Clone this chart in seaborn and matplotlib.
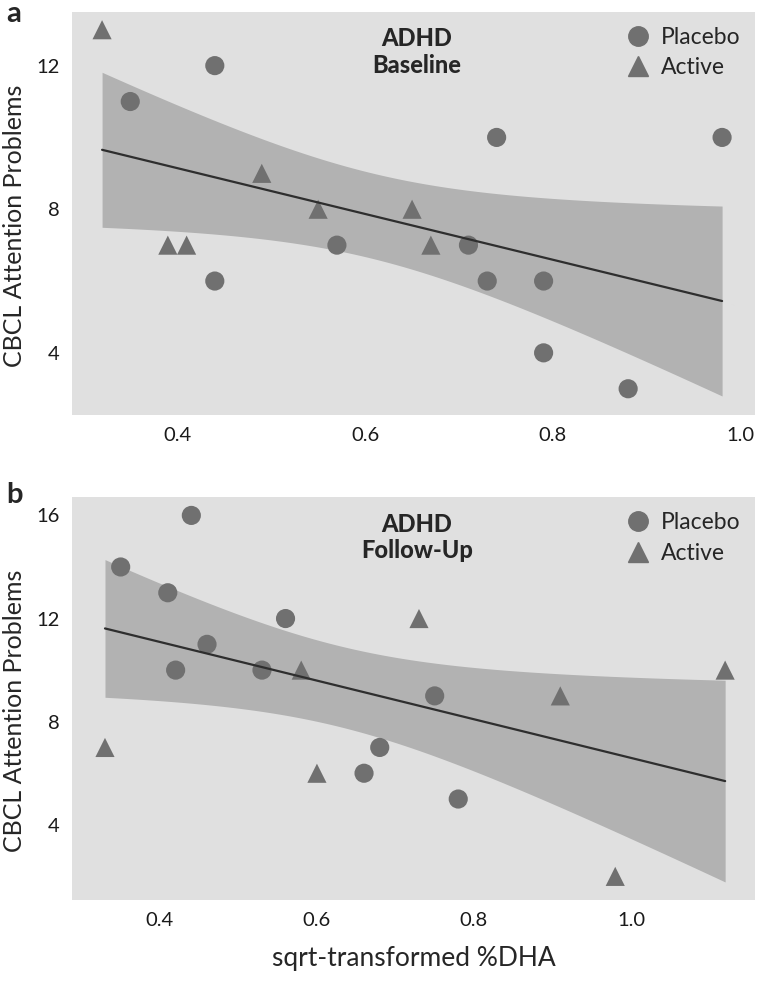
"""ADHD: CBCL attention problems vs sqrt-transformed %DHA, baseline and follow-up."""

import matplotlib
matplotlib.use("Agg")
import matplotlib.pyplot as plt
from matplotlib.lines import Line2D
import seaborn as sns
import numpy as np
import pandas as pd

# --- data -----------------------------------------------------------------
# panel a: baseline
base_placebo_x = [0.44, 0.35, 0.57, 0.44, 0.74, 0.98, 0.71, 0.73, 0.79, 0.79, 0.88]
base_placebo_y = [12, 11, 7, 6, 10, 10, 7, 6, 6, 4, 3]
base_active_x = [0.32, 0.49, 0.55, 0.39, 0.41, 0.65, 0.67]
base_active_y = [13, 9, 8, 7, 7, 8, 7]

# panel b: follow-up
fu_placebo_x = [0.44, 0.35, 0.41, 0.56, 0.46, 0.42, 0.53, 0.66, 0.68, 0.75, 0.78]
fu_placebo_y = [16, 14, 13, 12, 11, 10, 10, 6, 7, 9, 5]
fu_active_x = [0.58, 0.33, 0.60, 0.73, 0.91, 0.98, 1.12]
fu_active_y = [10, 7, 6, 12, 9, 2, 10]

groups = ["Placebo", "Active"]
x_ticks = [0.4, 0.6, 0.8, 1.0]

BG = "#e0e0e0"
BAND = "#b2b2b2"
POINT = "#707070"
LINE = "#2e2e2e"
FONT = ["Lato", "DejaVu Sans"]
T_CRIT = 2.12  # t(0.975, df=16), n = 18 in both panels


def make_frame(px, py, ax_, ay):
    return pd.DataFrame({
        "dha": px + ax_,
        "cbcl": py + ay,
        "group": [groups[0]] * len(px) + [groups[1]] * len(ax_),
    })


def ci_band(ax, df):
    """Analytic 95% confidence band of the OLS fit (smooth, like SPSS)."""
    x = df["dha"].to_numpy(float)
    y = df["cbcl"].to_numpy(float)
    n = len(x)
    slope, icept = np.polyfit(x, y, 1)
    resid = y - (icept + slope * x)
    s = np.sqrt((resid ** 2).sum() / (n - 2))
    sxx = ((x - x.mean()) ** 2).sum()
    grid = np.linspace(x.min(), x.max(), 200)
    fit = icept + slope * grid
    se = s * np.sqrt(1 / n + (grid - x.mean()) ** 2 / sxx)
    ax.fill_between(grid, fit - T_CRIT * se, fit + T_CRIT * se,
                    color=BAND, linewidth=0, zorder=1)


def draw_panel(ax, df, title, yticks, xlim, ylim):
    ax.set_facecolor(BG)
    ci_band(ax, df)
    sns.regplot(data=df, x="dha", y="cbcl", ax=ax, scatter=False, ci=None,
                color=LINE, line_kws={"linewidth": 1.6, "zorder": 4})
    sns.scatterplot(data=df, x="dha", y="cbcl", style="group",
                    markers={"Placebo": "o", "Active": "^"}, color=POINT,
                    s=190, linewidth=0, ax=ax, legend=False, zorder=3)

    ax.set_xlim(*xlim)
    ax.set_ylim(*ylim)
    ax.set_xticks(x_ticks)
    ax.set_xticklabels([f"{t:.1f}" for t in x_ticks])
    ax.set_yticks(yticks)
    ax.tick_params(length=0, labelsize=14.5, pad=9, labelcolor="#1a1a1a")
    for lab in ax.get_xticklabels() + ax.get_yticklabels():
        lab.set_family(FONT)
    for sp in ax.spines.values():
        sp.set_visible(False)
    ax.grid(False)
    ax.set_xlabel("")
    ax.set_ylabel("CBCL Attention Problems", fontsize=18, family=FONT)
    ax.yaxis.set_label_coords(-0.068, 0.47)

    ax.text(0.505, 0.962, title, transform=ax.transAxes, ha="center", va="top",
            fontsize=17, fontweight="black", family=FONT, linespacing=1.2)

    handles = [
        Line2D([], [], marker="o", linestyle="", color=POINT, markersize=14),
        Line2D([], [], marker="^", linestyle="", color=POINT, markersize=15),
    ]
    ax.legend(handles, groups, loc="upper right", frameon=False,
              handletextpad=0.0, borderaxespad=0.35, labelspacing=0.42,
              borderpad=0.3, prop={"family": FONT, "size": 16.5})


sns.set_theme(style="white")
plt.rcParams["font.family"] = FONT

fig = plt.figure(figsize=(7.58, 9.81), dpi=100)
ax_a = fig.add_axes([0.095, 0.577, 0.901, 0.411])
ax_b = fig.add_axes([0.095, 0.083, 0.901, 0.410])

draw_panel(ax_a, make_frame(base_placebo_x, base_placebo_y, base_active_x, base_active_y),
           "ADHD\nBaseline", [4, 8, 12], (0.288, 1.015), (2.27, 13.5))
draw_panel(ax_b, make_frame(fu_placebo_x, fu_placebo_y, fu_active_x, fu_active_y),
           "ADHD\nFollow-Up", [4, 8, 12, 16], (0.288, 1.158), (1.1, 16.7))
ax_b.set_xlabel("sqrt-transformed %DHA", fontsize=19, family=FONT, labelpad=12)

fig.text(6 / 758, 1 - 14 / 981, "a", ha="left", va="center",
         fontsize=21, fontweight="bold", family=FONT)
fig.text(6 / 758, 1 - 495 / 981, "b", ha="left", va="center",
         fontsize=21, fontweight="bold", family=FONT)

fig.savefig("out.png", dpi=100)
